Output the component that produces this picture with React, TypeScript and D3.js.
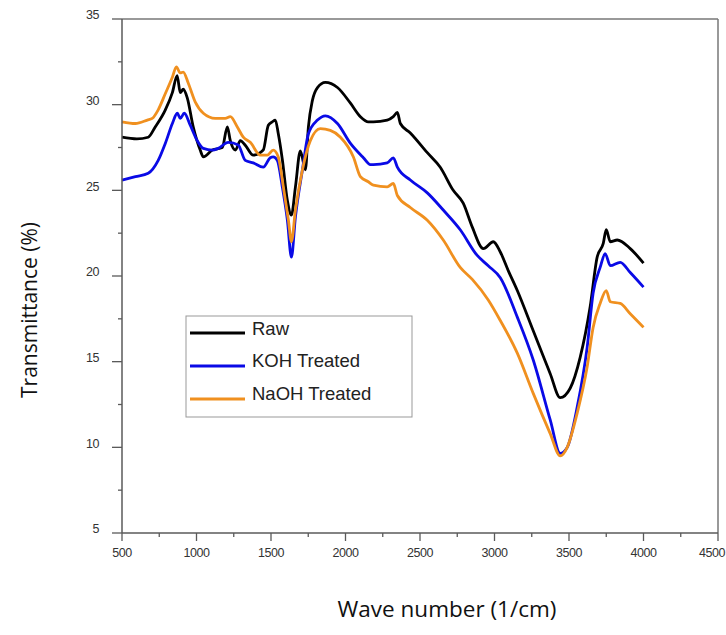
import * as d3 from 'd3';

// wave number (1/cm) and transmittance (%)
const rawX = [500, 600, 676, 723, 791, 838, 870, 891, 911, 938, 978, 1025, 1046, 1106, 1173, 1207, 1227, 1261, 1294, 1330, 1381, 1448, 1482, 1509, 1529, 1549, 1576, 1610, 1637, 1664, 1697, 1731, 1751, 1778, 1812, 1865, 1946, 2032, 2100, 2153, 2187, 2280, 2321, 2348, 2368, 2435, 2549, 2636, 2723, 2790, 2851, 2925, 2992, 3039, 3093, 3153, 3260, 3374, 3441, 3508, 3575, 3642, 3689, 3730, 3750, 3777, 3824, 3911, 4000];
const rawY = [28.1, 28.0, 28.1, 28.7, 29.7, 30.7, 31.7, 30.7, 30.9, 30.4, 28.7, 27.35, 26.95, 27.35, 27.5, 28.7, 27.9, 27.35, 27.9, 27.6, 27.05, 27.35, 28.8, 29.0, 29.1, 28.3, 26.8, 24.4, 23.55, 25.2, 27.3, 26.2, 28.7, 30.25, 31.0, 31.3, 31.0, 30.1, 29.3, 29.0, 29.0, 29.1, 29.3, 29.55, 28.9, 28.35, 27.2, 26.35, 25.0, 24.25, 22.85, 21.6, 22.0, 21.4, 20.3, 19.15, 16.8, 14.3, 12.9, 13.45, 15.25, 18.2, 21.1, 21.9, 22.7, 22.0, 22.1, 21.6, 20.75];

const kohX = [500, 590, 676, 743, 791, 838, 871, 891, 918, 958, 1005, 1046, 1106, 1146, 1213, 1280, 1327, 1381, 1448, 1495, 1515, 1542, 1576, 1610, 1637, 1664, 1711, 1751, 1812, 1865, 1946, 2032, 2120, 2167, 2187, 2280, 2321, 2348, 2435, 2549, 2656, 2770, 2884, 2958, 3039, 3153, 3260, 3374, 3441, 3488, 3555, 3622, 3662, 3709, 3743, 3777, 3844, 3911, 4000];
const kohY = [25.6, 25.8, 26.0, 26.75, 27.75, 28.9, 29.5, 29.2, 29.5, 28.8, 27.9, 27.45, 27.35, 27.45, 27.8, 27.65, 26.75, 26.6, 26.35, 26.9, 26.95, 26.75, 25.2, 23.25, 21.1, 23.45, 26.2, 28.3, 29.1, 29.35, 28.9, 27.75, 26.9, 26.5, 26.5, 26.6, 26.9, 26.35, 25.6, 24.85, 23.85, 22.7, 21.2, 20.6, 19.9, 17.6, 15.1, 11.6, 9.65, 10.0, 12.35, 15.85, 19.0, 20.5, 21.3, 20.6, 20.8, 20.2, 19.35];

const naohX = [500, 590, 670, 703, 743, 791, 838, 865, 891, 911, 945, 992, 1046, 1126, 1193, 1227, 1274, 1314, 1361, 1428, 1475, 1515, 1549, 1583, 1617, 1637, 1664, 1711, 1764, 1831, 1898, 1966, 2053, 2100, 2153, 2187, 2280, 2321, 2348, 2435, 2549, 2656, 2770, 2851, 2958, 3039, 3153, 3260, 3374, 3441, 3488, 3555, 3622, 3662, 3709, 3750, 3777, 3844, 3911, 4000];
const naohY = [29.0, 28.9, 29.1, 29.2, 29.7, 30.65, 31.6, 32.2, 31.85, 31.9, 31.25, 30.15, 29.5, 29.2, 29.2, 29.3, 28.7, 28.1, 27.8, 27.05, 27.05, 27.35, 26.95, 25.2, 23.25, 22.0, 23.85, 26.2, 27.9, 28.6, 28.5, 28.1, 26.95, 25.8, 25.5, 25.3, 25.2, 25.4, 24.7, 24.0, 23.25, 22.1, 20.5, 19.8, 18.6, 17.4, 15.5, 13.15, 10.8, 9.5, 10.0, 12.0, 14.7, 17.0, 18.4, 19.15, 18.5, 18.4, 17.8, 17.0];

const seriesNames = ['Raw', 'KOH Treated', 'NaOH Treated'];
const seriesColors = ['#000000', '#0a0ae6', '#f0901f'];

const xTicks = [500, 1000, 1500, 2000, 2500, 3000, 3500, 4000, 4500];
const yTicks = [5, 10, 15, 20, 25, 30, 35];

const W = 726;
const H = 635;
const left = 122;
const right = 718;
const top = 19;
const bottom = 533;

const App = () => {
  const x = d3.scaleLinear().domain([500, 4500]).range([left, right]);
  const y = d3.scaleLinear().domain([5, 35]).range([bottom, top]);

  const line = d3.line<[number, number]>()
    .x(d => x(d[0]))
    .y(d => y(d[1]))
    .curve(d3.curveMonotoneX);

  const data: [number, number][][] = [
    rawX.map((v, i) => [v, rawY[i]]),
    kohX.map((v, i) => [v, kohY[i]]),
    naohX.map((v, i) => [v, naohY[i]]),
  ];

  const xMinor = d3.range(750, 4500, 500);
  const yMinor = d3.range(7.5, 35, 5);
  const axisColor = '#5a5a5a';
  const font = 'Liberation Sans, Arial, sans-serif';

  return (
    <svg width={W} height={H} style={{ position: 'absolute', left: 0, top: 0, background: '#fff' }}>
      {/* frame */}
      <line x1={left} x2={right} y1={top} y2={top} stroke="#777" strokeWidth={1.5} />
      <line x1={right} x2={right} y1={top} y2={bottom} stroke="#777" strokeWidth={1.5} />

      {/* curves */}
      {data.map((d, i) => (
        <path key={seriesNames[i]} d={line(d) || ''} fill="none" stroke={seriesColors[i]}
          strokeWidth={2.8} strokeLinejoin="round" />
      ))}

      {/* y axis */}
      <line x1={left} x2={left} y1={top} y2={bottom} stroke={axisColor} strokeWidth={1.5} />
      {yTicks.map(t => (
        <g key={'y' + t}>
          <line x1={left - 10} x2={left} y1={y(t)} y2={y(t)} stroke={axisColor} strokeWidth={1.3} />
          <text x={99} y={y(t) - 3} textAnchor="end" dominantBaseline="middle"
            fontFamily={font} fontSize={12.5} letterSpacing={-0.4} fill="#333">{t}</text>
        </g>
      ))}
      {yMinor.map(t => (
        <line key={'ym' + t} x1={left - 4} x2={left} y1={y(t)} y2={y(t)} stroke={axisColor} strokeWidth={1.3} />
      ))}

      {/* x axis */}
      <line x1={left} x2={right} y1={bottom} y2={bottom} stroke={axisColor} strokeWidth={1.5} />
      {xTicks.map(t => (
        <g key={'x' + t}>
          <line x1={x(t)} x2={x(t)} y1={bottom} y2={bottom + 8} stroke={axisColor} strokeWidth={1.3} />
          <text x={t === 4500 ? x(t) - 6 : x(t)} y={bottom + 21} textAnchor="middle" dominantBaseline="middle"
            fontFamily={font} fontSize={12.5} letterSpacing={-0.4} fill="#333">{t}</text>
        </g>
      ))}
      {xMinor.map(t => (
        <line key={'xm' + t} x1={x(t)} x2={x(t)} y1={bottom} y2={bottom + 4} stroke={axisColor} strokeWidth={1.3} />
      ))}

      {/* axis titles */}
      <text transform="translate(31,310) rotate(-90)" textAnchor="middle" dominantBaseline="middle"
        fontFamily="Open Sans, sans-serif" fontSize={21} fill="#111">Transmittance (%)</text>
      <text x={447} y={611} textAnchor="middle" dominantBaseline="middle"
        fontFamily="Open Sans, sans-serif" fontSize={22.5} fill="#111">Wave number (1/cm)</text>

      {/* legend */}
      <rect x={186} y={316} width={226} height={101} fill="#fff" stroke="#999" strokeWidth={1} />
      {seriesNames.map((n, i) => (
        <g key={'lg' + n}>
          <line x1={190} x2={245} y1={333 + i * 33} y2={333 + i * 33} stroke={seriesColors[i]} strokeWidth={3} />
          <text x={252} y={330 + i * 32.5} dominantBaseline="middle" fontFamily={font}
            fontSize={18.5} fill="#222">{n}</text>
        </g>
      ))}
    </svg>
  );
};

export default App;
